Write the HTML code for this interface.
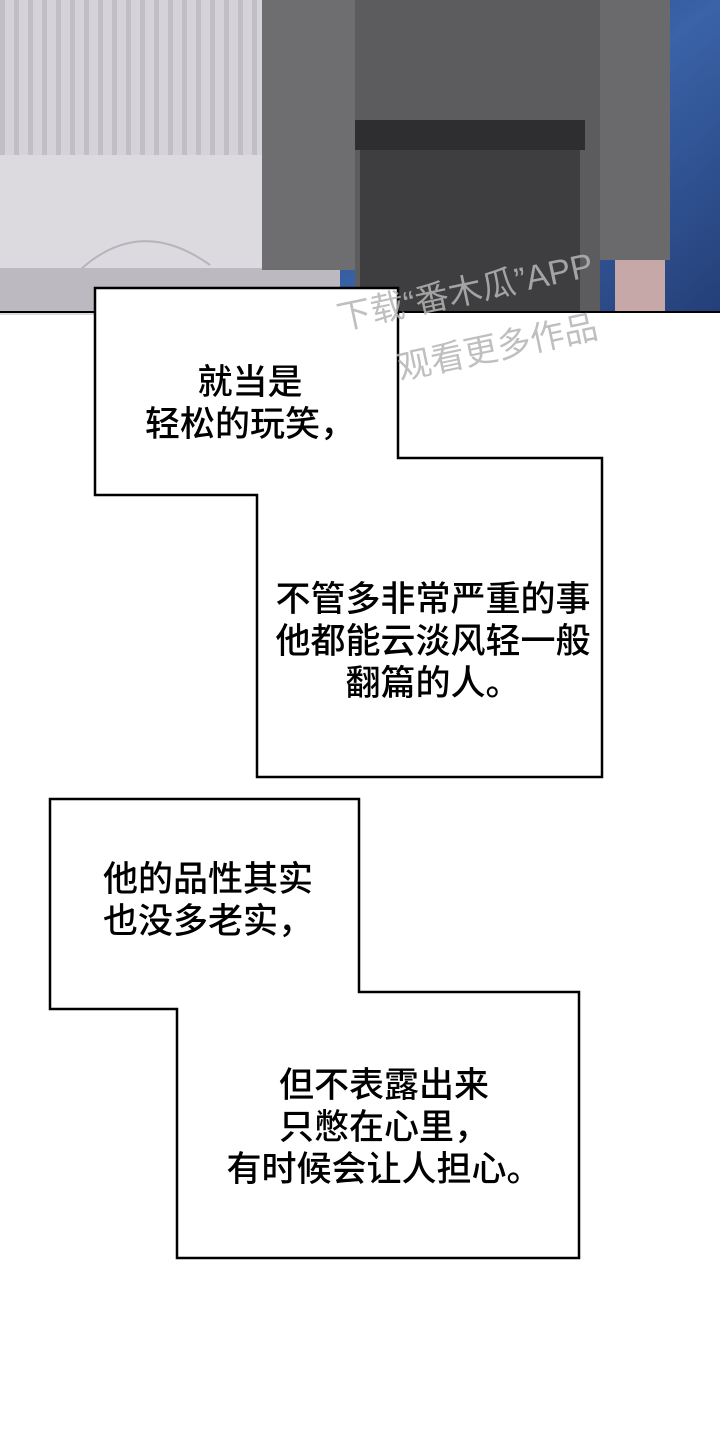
<!DOCTYPE html>
<html><head><meta charset="utf-8"><style>
html,body{margin:0;padding:0;background:#fff;}
body{width:720px;height:1440px;position:relative;overflow:hidden;font-family:"Liberation Sans","Noto Sans CJK SC",sans-serif;}
.t{position:absolute;font-size:35px;line-height:42px;color:#000;white-space:nowrap;font-weight:500;}
</style></head><body>
<svg width="720" height="1440" style="position:absolute;left:0;top:0">
<defs>
<pattern id="str" width="14" height="10" patternUnits="userSpaceOnUse">
<rect width="14" height="10" fill="#d6d2da"/><rect width="5" height="10" fill="#c2bec6"/>
</pattern>
<linearGradient id="blue" x1="0" y1="0" x2="1" y2="1"><stop offset="0" stop-color="#1e3e7a"/><stop offset="0.5" stop-color="#3a63a8"/><stop offset="1" stop-color="#243f78"/></linearGradient>
</defs>
<rect x="0" y="0" width="720" height="312" fill="#d0cdd4"/>
<rect x="0" y="0" width="270" height="155" fill="url(#str)"/>
<rect x="0" y="155" width="270" height="160" fill="#dcd9df"/>
<path d="M80 270 Q140 215 210 265" stroke="#b8b4bc" stroke-width="2" fill="none"/>
<rect x="0" y="268" width="720" height="44" fill="#bdb9c0"/>
<rect x="340" y="0" width="380" height="312" fill="url(#blue)"/>
<rect x="262" y="0" width="100" height="270" fill="#6e6e70"/>
<rect x="355" y="0" width="245" height="312" fill="#5c5c5e"/>
<rect x="360" y="130" width="220" height="182" fill="#3e3e40"/>
<rect x="355" y="120" width="230" height="30" fill="#2e2e30"/>
<rect x="600" y="0" width="70" height="260" fill="#6a6a6c"/>
<rect x="615" y="260" width="50" height="52" fill="#c6a8a8"/>
<line x1="0" y1="312" x2="720" y2="312" stroke="#000" stroke-width="2"/>
<polygon points="95,288 398,288 398,458 602,458 602,777 257,777 257,495 95,495" fill="#fff" stroke="#000" stroke-width="2.5"/>
<polygon points="50,799 359,799 359,992 579,992 579,1258 177,1258 177,1009 50,1009" fill="#fff" stroke="#000" stroke-width="2.5"/>
<text x="340" y="330" font-family="Liberation Sans,Noto Sans CJK SC,sans-serif" font-size="34" fill="#b5b5b5" opacity="0.85" transform="rotate(-12 340 330)">下载“番木瓜”APP</text>
<text x="400" y="380" font-family="Liberation Sans,Noto Sans CJK SC,sans-serif" font-size="34" fill="#b5b5b5" opacity="0.85" transform="rotate(-12 400 380)">观看更多作品</text>
</svg>
<div class="t" style="left:130px;top:362px;width:240px;text-align:center">就当是<br>轻松的玩笑，</div>
<div class="t" style="left:262px;top:579px;width:342px;text-align:center">不管多非常严重的事<br>他都能云淡风轻一般<br>翻篇的人。</div>
<div class="t" style="left:103px;top:859px">他的品性其实<br>也没多老实，</div>
<div class="t" style="left:219px;top:1065px;width:330px;text-align:center">但不表露出来<br>只憋在心里，<br>有时候会让人担心。</div>
</body></html>
